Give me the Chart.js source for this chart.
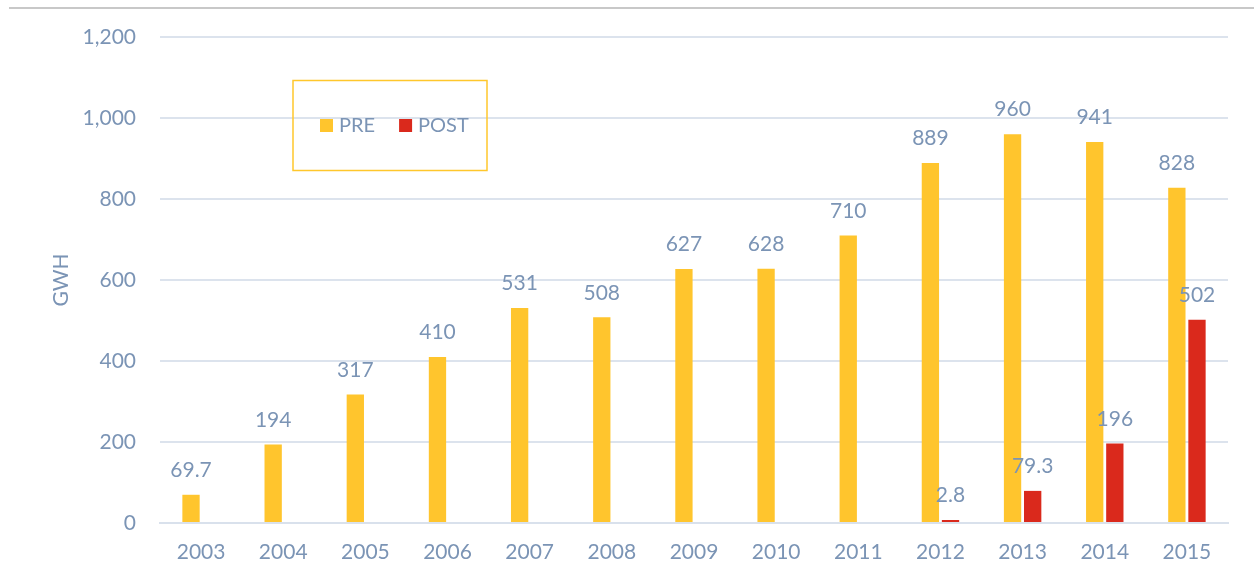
<!DOCTYPE html>
<html>
<head>
<meta charset="utf-8">
<script src="https://cdn.jsdelivr.net/npm/chart.js@4"></script>
<style>
  html, body { margin: 0; padding: 0; background: #fff; }
  #wrap { position: relative; width: 1254px; height: 579px; }
  #topline { position: absolute; left: 9px; right: 0; top: 7px; height: 0; border-top: 2px solid #c8c8c8; }
</style>
</head>
<body>
<div id="wrap">
  <div id="topline"></div>
  <canvas id="barChart1" width="1254" height="579"></canvas>
</div>
<script>
const years = ["2003", "2004", "2005", "2006", "2007", "2008", "2009", "2010", "2011", "2012", "2013", "2014", "2015"];
const preValues = [69.7, 194, 317, 410, 531, 508, 627, 628, 710, 889, 960, 941, 828];
const postValues = [null, null, null, null, null, null, null, null, null, 2.8, 79.3, 196, 502];
const preLabels = ["69.7", "194", "317", "410", "531", "508", "627", "628", "710", "889", "960", "941", "828"];
const postLabels = ["", "", "", "", "", "", "", "", "", "2.8", "79.3", "196", "502"];

const textColor = "#7b94b5";
const fontName = "Lato, 'Open Sans', sans-serif";

// value labels above bars
const valueLabels = {
  id: "valueLabels",
  afterDatasetsDraw(chart) {
    const ctx = chart.ctx;
    const texts = [preLabels, postLabels];
    ctx.save();
    ctx.font = "21px " + fontName;
    ctx.fillStyle = textColor;
    ctx.textAlign = "center";
    ctx.textBaseline = "bottom";
    chart.data.datasets.forEach((ds, i) => {
      chart.getDatasetMeta(i).data.forEach((bar, j) => {
        if (ds.data[j] == null) return;
        ctx.fillText(texts[i][j], bar.x, bar.y - 14);
      });
    });
    ctx.restore();
  }
};

// boxed legend inside the plot
const boxLegend = {
  id: "boxLegend",
  afterDraw(chart) {
    const ctx = chart.ctx;
    ctx.save();
    ctx.strokeStyle = "#ffc72c";
    ctx.lineWidth = 1.5;
    ctx.strokeRect(293, 80.5, 194, 90);
    ctx.font = "20px " + fontName;
    ctx.textBaseline = "middle";
    let x = 320;
    chart.data.datasets.forEach((ds) => {
      ctx.fillStyle = ds.backgroundColor;
      ctx.fillRect(x, 119, 13, 13);
      ctx.fillStyle = textColor;
      ctx.fillText(ds.label, x + 19, 126);
      x += 19 + ctx.measureText(ds.label).width + 24;
    });
    ctx.restore();
  }
};

new Chart(document.getElementById("barChart1"), {
  type: "bar",
  data: {
    labels: years,
    datasets: [
      { label: "PRE", data: preValues, backgroundColor: "#ffc52d" },
      { label: "POST", data: postValues, backgroundColor: "#da291c", minBarLength: 3 },
    ],
  },
  options: {
    responsive: false,
    animation: false,
    layout: { padding: { top: 37, right: 26, left: 0, bottom: 0 } },
    datasets: { bar: { categoryPercentage: 0.49, barPercentage: 0.86 } },
    plugins: { legend: { display: false }, tooltip: { enabled: false } },
    scales: {
      x: {
        grid: { display: false, drawTicks: false },
        border: { color: "#d9e1ec", width: 2 },
        ticks: { color: textColor, font: { family: fontName, size: 21 }, padding: 17 },
        afterFit(scale) { scale.height = 56; },
      },
      y: {
        min: 0,
        max: 1200,
        ticks: {
          stepSize: 200,
          color: textColor,
          font: { family: fontName, size: 21 },
          padding: 24,
          callback: (v) => v.toLocaleString("en-US"),
        },
        grid: { color: "#dce3ed", lineWidth: 2, drawTicks: false },
        border: { display: false },
        title: { display: true, text: "GWH", color: textColor, font: { family: fontName, size: 21 }, padding: { top: 49, bottom: 0 } },
        afterFit(scale) { scale.width = 160; },
      },
    },
  },
  plugins: [valueLabels, boxLegend],
});
</script>
</body>
</html>
